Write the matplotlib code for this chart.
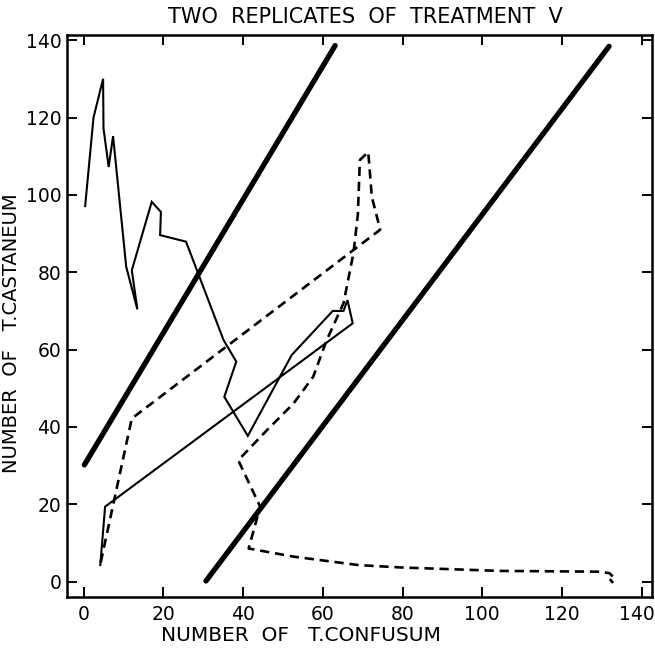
import matplotlib
matplotlib.use("Agg")
import matplotlib.pyplot as plt
import matplotlib.transforms as mtransforms

## data

# heavy reference lines (start, end)
LINE_A_X = [0.2, 63.1]
LINE_A_Y = [30.2, 138.6]
LINE_B_X = [30.7, 131.8]
LINE_B_Y = [0.2, 138.4]

# replicate 1 (solid)
REP1_X = [0.4, 2.5, 4.9, 5.0, 6.3, 7.4, 10.7, 13.5, 12.1, 17.1, 19.4, 19.2,
          25.7, 35.1, 38.3, 35.3, 41.2, 52.2, 62.5, 65.2, 66.2, 67.5, 5.4, 4.2]
REP1_Y = [97.1, 120.0, 130.0, 117.2, 107.2, 115.2, 81.4, 70.4, 80.5, 98.2, 95.6, 89.6,
          87.9, 62.5, 56.9, 47.8, 37.7, 58.6, 70.0, 70.0, 72.8, 66.8, 19.4, 4.3]

# replicate 2 (dashed)
REP2_X = [4.3, 12.1, 74.4, 72.3, 71.4, 69.3, 68.8, 67.7, 65.2, 61.0, 57.6, 52.6,
          46.0, 38.8, 44.3, 41.4, 52.6, 69.0, 79.4, 104.4, 129.5, 131.9, 132.8,
          131.8, 132.8]
REP2_Y = [5.0, 42.2, 91.0, 99.5, 111.1, 109.0, 95.0, 85.0, 72.0, 62.5, 53.0, 46.0,
          39.2, 31.4, 19.4, 8.6, 6.5, 4.3, 3.7, 2.8, 2.6, 2.2, 1.3, 0.9, -0.3]

X_TICKS = [0, 20, 40, 60, 80, 100, 120, 140]
Y_TICKS = [0, 20, 40, 60, 80, 100, 120, 140]

TITLE = "TWO  REPLICATES  OF  TREATMENT  V"
X_LABEL = "NUMBER  OF   T.CONFUSUM"
Y_LABEL = "NUMBER  OF   T.CASTANEUM"

plt.rcParams["font.family"] = ["DejaVu Sans"]

fig = plt.figure(figsize=(6.55, 6.5), dpi=100)
ax = fig.add_axes([0.102, 0.0815, 0.893, 0.8645])

ax.plot(LINE_A_X, LINE_A_Y, color="black", lw=3.8, solid_capstyle="round")
ax.plot(LINE_B_X, LINE_B_Y, color="black", lw=3.8, solid_capstyle="round")
ax.plot(REP1_X, REP1_Y, color="black", lw=1.5, solid_joinstyle="miter")
ax.plot(REP2_X, REP2_Y, color="black", lw=1.9, ls=(0, (3.5, 2.2)))

ax.set_xlim(-4.2, 142.5)
ax.set_ylim(-3.95, 141.3)
ax.set_xticks(X_TICKS)
ax.set_yticks(Y_TICKS)
ax.tick_params(direction="in", length=7, width=1.4, top=True, right=True,
               labelsize=13.5, pad=6)
ax.tick_params(axis="y", pad=4)
for side in ["left", "bottom", "top", "right"]:
    ax.spines[side].set_linewidth(1.8)

# nudge the last x tick label so it stays inside the picture
last = ax.get_xticklabels()[-1]
last.set_transform(last.get_transform() + mtransforms.ScaledTranslation(-5 / 100, 0, fig.dpi_scale_trans))

ax.set_title(TITLE, fontsize=15, pad=9, x=0.51)
ax.set_xlabel(X_LABEL, fontsize=14.5)
ax.xaxis.set_label_coords(0.40, -0.052)
ax.set_ylabel(Y_LABEL, fontsize=14)
ax.yaxis.set_label_coords(-0.078, 0.47)

fig.savefig("out.png", dpi=100)
